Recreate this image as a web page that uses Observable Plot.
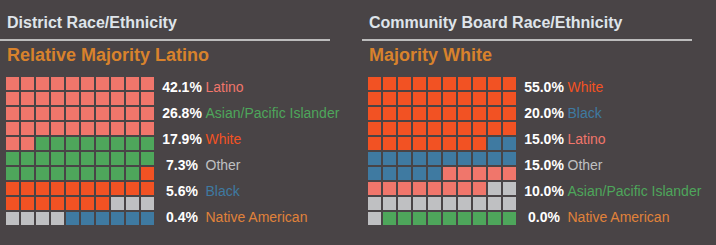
<!DOCTYPE html>
<html>
<head>
<meta charset="utf-8">
<script src="https://cdn.jsdelivr.net/npm/d3@7"></script>
<script src="https://cdn.jsdelivr.net/npm/@observablehq/plot@0.6"></script>
<style>
  html, body { margin: 0; padding: 0; }
  body { width: 716px; height: 245px; background: #494446; position: relative; overflow: hidden;
         font-family: "Liberation Sans", Arial, sans-serif; }
  .panel { position: absolute; top: 0; width: 354px; height: 245px; }
  .title { position: absolute; left: 7px; top: 15px; font-size: 16px; line-height: 16px; font-weight: bold; color: #dfe4ea; white-space: nowrap; }
  .rule { position: absolute; left: 0; top: 39px; width: 330px; height: 2px; background: #bcbcbc; }
  .sub { position: absolute; left: 7px; top: 46px; font-size: 18px; line-height: 18px; font-weight: bold; color: #d8822c; white-space: nowrap; }
  .waffle { position: absolute; left: 0; top: 70px; }
  .labels { position: absolute; left: 155px; top: 70px; }
</style>
</head>
<body>
<script>
// ---- data ----
const leftTitle = "District Race/Ethnicity";
const leftSubtitle = "Relative Majority Latino";
const leftCategories = ["Latino", "Asian/Pacific Islander", "White", "Other", "Black", "Native American"];
const leftPercents = [42.1, 26.8, 17.9, 7.3, 5.6, 0.4];
const leftCells = [42, 27, 18, 7, 6, 0];

const rightTitle = "Community Board Race/Ethnicity";
const rightSubtitle = "Majority White";
const rightCategories = ["White", "Black", "Latino", "Other", "Asian/Pacific Islander", "Native American"];
const rightPercents = [55.0, 20.0, 15.0, 15.0, 10.0, 0.0];
const rightCells = [48, 17, 13, 13, 9, 0];

const colorDomain = ["Latino", "Asian/Pacific Islander", "White", "Other", "Black", "Native American"];
const colorRange = ["#f0766b", "#4ea65b", "#f25223", "#bfc0c2", "#3f7aa1", "#e0823a"];

const gridCols = d3.range(10);
const gridRows = d3.range(10);

function makePanel(left, title, subtitle, cats, pcts, counts) {
  const panel = document.createElement("div");
  panel.className = "panel";
  panel.style.left = left + "px";
  panel.innerHTML = `<div class="title"></div><div class="rule"></div><div class="sub"></div>`;
  panel.querySelector(".title").textContent = title;
  panel.querySelector(".sub").textContent = subtitle;

  const cells = [];
  let k = 0;
  cats.forEach((c, i) => {
    for (let j = 0; j < counts[i]; j++, k++) cells.push({cat: c, col: k % 10, row: Math.floor(k / 10)});
  });

  const color = {domain: colorDomain, range: colorRange};
  const font = {background: "transparent", fontFamily: "'Liberation Sans', Arial, sans-serif"};

  const waffle = Plot.plot({
    width: 160, height: 160, margin: 0,
    style: font,
    x: {type: "band", domain: gridCols, range: [6, 154], paddingInner: 2 / 15, paddingOuter: 0, axis: null},
    y: {type: "band", domain: gridRows, range: [7, 155], paddingInner: 2 / 15, paddingOuter: 0, axis: null},
    color,
    marks: [Plot.cell(cells, {x: "col", y: "row", fill: "cat"})]
  });
  waffle.classList.add("waffle");

  const rows = cats.map((c, i) => ({cat: c, pct: pcts[i]}));
  const labels = Plot.plot({
    width: 199, height: 160, margin: 0,
    style: font,
    y: {type: "point", domain: cats, range: [16, 148], padding: 0, axis: null},
    color,
    marks: [
      Plot.text(rows, {y: "cat", text: d => d3.format(".1f")(d.pct) + "%", frameAnchor: "left", dx: 26.5,
        textAnchor: "middle", fill: "#ffffff", fontWeight: "bold", fontSize: 14}),
      Plot.text(rows, {y: "cat", text: "cat", frameAnchor: "left", dx: 50, textAnchor: "start",
        fill: "cat", fontSize: 14})
    ]
  });
  labels.classList.add("labels");

  panel.appendChild(waffle);
  panel.appendChild(labels);
  document.body.appendChild(panel);
}

makePanel(0, leftTitle, leftSubtitle, leftCategories, leftPercents, leftCells);
makePanel(362, rightTitle, rightSubtitle, rightCategories, rightPercents, rightCells);
</script>
</body>
</html>
